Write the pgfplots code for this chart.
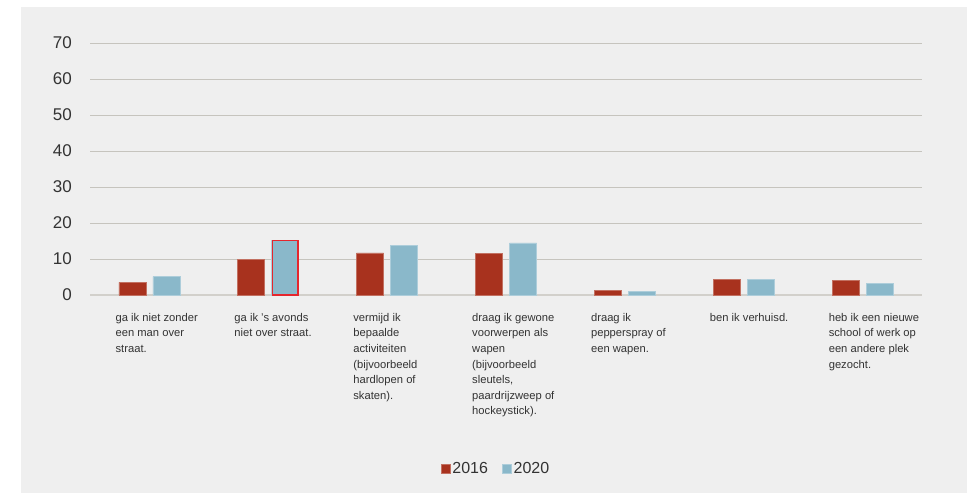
\documentclass[border=0pt]{standalone}
\usepackage{pgfplots}
\pgfplotsset{compat=1.18}
\usepackage{fontspec}
\setmainfont{Liberation Sans}
\definecolor{bred}{HTML}{A8321E}
\definecolor{bblue}{HTML}{8AB8CA}
\definecolor{bg}{HTML}{EFEFEF}
\definecolor{gridc}{HTML}{C6C4BE}
\definecolor{zeroc}{HTML}{D2D0CB}
\definecolor{txt}{HTML}{333333}
\definecolor{hl}{HTML}{E5262D}
\begin{document}
\begin{tikzpicture}
\path[use as bounding box] (0pt,0pt) rectangle (973pt,493pt);
\fill[bg] (21pt,0pt) rectangle (967pt,486pt);
\begin{axis}[
  at={(90pt,198pt)}, anchor=south west,
  scale only axis, width=832pt, height=252pt,
  xmin=-0.5, xmax=6.5, ymin=0, ymax=70,
  ytick={10,20,...,70},
  extra y ticks={0},
  extra y tick style={grid style={zeroc, line width=1.6pt}},
  ymajorgrids, grid style={gridc, line width=0.9pt},
  axis line style={draw=none},
  major tick length=0pt,
  /pgf/number format/assume math mode=true,
  yticklabel style={font=\fontsize{17}{17}\selectfont, text=txt, anchor=east, inner sep=0pt, xshift=-18pt},
  xtick={0,...,6},
  xticklabels={
    {ga ik niet zonder\\een man over\\straat.},
    {ga ik 's avonds\\niet over straat.},
    {vermijd ik\\bepaalde\\activiteiten\\(bijvoorbeeld\\hardlopen of\\skaten).},
    {draag ik gewone\\voorwerpen als\\wapen\\(bijvoorbeeld\\sleutels,\\paardrijzweep of\\hockeystick).},
    {draag ik\\pepperspray of\\een wapen.},
    {ben ik verhuisd.},
    {heb ik een nieuwe\\school of werk op\\een andere plek\\gezocht.}},
  xticklabel style={font=\fontsize{11.2}{15.6}\selectfont, text=txt, align=left, anchor=north west, inner sep=0pt, xshift=-34pt, yshift=-18pt},
  ybar, bar width=27pt,
  legend columns=2,
  legend style={draw=none, fill=none, at={(0.488,-0.69)}, anchor=center,
    font=\fontsize{16}{16}\selectfont, text=txt,
    /tikz/every even column/.append style={column sep=12pt}},
  legend image code/.code={\fill[#1] (0pt,-4.5pt) rectangle (9pt,4.5pt);},
]
\addplot[fill=bred, draw=bred!70!white, line width=0.6pt, bar shift=-17pt] coordinates {
  (0,3.5) (1,9.8) (2,11.7) (3,11.5) (4,1.3) (5,4.4) (6,4.1)};
\addplot[fill=bblue, draw=bblue!70!white, line width=0.6pt, bar shift=17pt] coordinates {
  (0,5.1) (1,15.2) (2,13.8) (3,14.5) (4,1.1) (5,4.4) (6,3.2)};
\addplot[fill=bblue, draw=hl, line width=1.5pt, bar shift=17pt, bar width=25.5pt, forget plot] coordinates {(1,15.2)};
\legend{2016,2020}
\end{axis}
\end{tikzpicture}
\end{document}
